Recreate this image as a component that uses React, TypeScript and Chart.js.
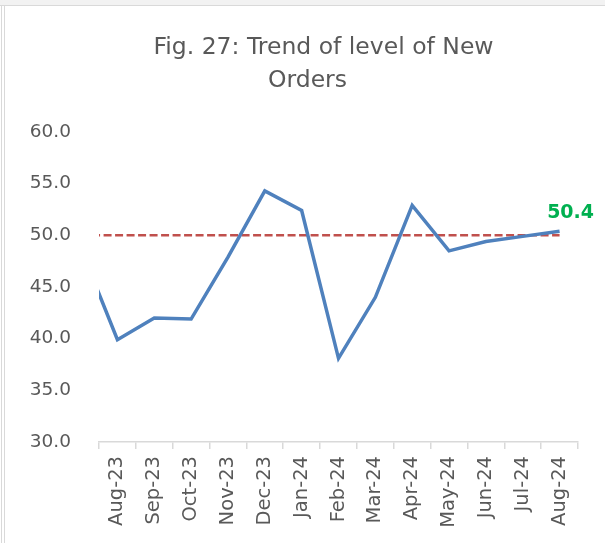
import React, { useEffect, useRef } from "react";
import { Chart, registerables } from "chart.js";

Chart.register(...registerables);

// Categories (first one lies just outside the visible axis range, as in the source chart)
const categories: string[] = [
  "Jul-23", "Aug-23", "Sep-23", "Oct-23", "Nov-23", "Dec-23", "Jan-24",
  "Feb-24", "Mar-24", "Apr-24", "May-24", "Jun-24", "Jul-24", "Aug-24",
];
const newOrders: number[] = [48.8, 39.9, 42.0, 41.9, 47.9, 54.3, 52.4, 38.1, 44.0, 52.9, 48.5, 49.4, 49.9, 50.4];
const threshold: number[] = [50, 50, 50, 50, 50, 50, 50, 50, 50, 50, 50, 50, 50, 50];
const yMin = 30;
const yMax = 60;
const yStep = 5;
const titleLines: string[] = ["Fig. 27: Trend of level of New", "Orders"];
const lastLabel = "50.4";

const FONT = "'DejaVu Sans', 'Open Sans', sans-serif";
const TEXT = "#595959";

const titlePlugin = {
  id: "customTitle",
  afterDraw(chart: any) {
    const ctx = chart.ctx;
    const mid = chart.width / 2;
    ctx.save();
    ctx.fillStyle = TEXT;
    ctx.font = `23.5px ${FONT}`;
    ctx.textAlign = "center";
    ctx.textBaseline = "middle";
    ctx.fillText(titleLines[0], mid + 21, 48);
    ctx.fillText(titleLines[1], mid + 5, 81);
    ctx.restore();
  },
};

const lastLabelPlugin = {
  id: "lastLabel",
  afterDatasetsDraw(chart: any) {
    const meta = chart.getDatasetMeta(0);
    const pt = meta.data[meta.data.length - 1];
    if (!pt) return;
    const ctx = chart.ctx;
    ctx.save();
    ctx.fillStyle = "#00b050";
    ctx.font = `bold 19px ${FONT}`;
    ctx.textAlign = "center";
    ctx.textBaseline = "middle";
    ctx.fillText(lastLabel, pt.x + 11, pt.y - 18);
    ctx.restore();
  },
};

export default function App() {
  const ref = useRef<HTMLCanvasElement | null>(null);

  useEffect(() => {
    if (!ref.current) return;
    const chart = new Chart(ref.current, {
      type: "line",
      data: {
        labels: categories,
        datasets: [
          {
            label: "New Orders",
            data: newOrders,
            borderColor: "#4f81bd",
            borderWidth: 3.5,
            pointRadius: 0,
            tension: 0,
            fill: false,
          },
          {
            label: "Threshold",
            data: threshold,
            borderColor: "#c0504d",
            borderWidth: 2.5,
            borderDash: [8, 3.5],
            pointRadius: 0,
            tension: 0,
            fill: false,
          },
        ],
      },
      options: {
        animation: false,
        responsive: false,
        maintainAspectRatio: false,
        layout: { padding: { top: 132, right: 27, bottom: 0, left: 0 } },
        plugins: {
          legend: { display: false },
          tooltip: { enabled: false },
          title: { display: false },
        },
        scales: {
          x: {
            type: "category",
            min: "Aug-23",
            offset: true,
            grid: {
              display: true,
              drawOnChartArea: false,
              drawTicks: true,
              tickLength: 7,
              color: "#d9d9d9",
              lineWidth: 1.5,
              offset: true,
            },
            border: { display: true, color: "#d9d9d9", width: 1.5 },
            ticks: {
              autoSkip: false,
              minRotation: 90,
              maxRotation: 90,
              padding: 7,
              color: TEXT,
              font: { family: FONT, size: 19.5 },
            },
            afterFit(scale: any) {
              scale.height = 101;
            },
          },
          y: {
            min: yMin,
            max: yMax,
            grid: { display: false, drawTicks: false },
            border: { display: false },
            ticks: {
              stepSize: yStep,
              padding: 28,
              color: TEXT,
              font: { family: FONT, size: 18.5 },
              callback: (v: any) => Number(v).toFixed(1),
            },
            afterFit(scale: any) {
              scale.width = 99;
            },
          },
        },
      },
      plugins: [titlePlugin, lastLabelPlugin],
    } as any);
    return () => chart.destroy();
  }, []);

  return (
    <div style={{ position: "fixed", left: 0, top: 0, width: 605, height: 543, background: "#ffffff", overflow: "hidden" }}>
      <div style={{ position: "absolute", left: 0, top: 0, width: 605, height: 5, background: "#f2f2f2", borderBottom: "1px solid #d9d9d9" }} />
      <div style={{ position: "absolute", left: 1, top: 6, width: 1, height: 537, background: "#d9d9d9" }} />
      <div style={{ position: "absolute", left: 4, top: 6, width: 1, height: 537, background: "#d9d9d9" }} />
      <canvas ref={ref} width={605} height={543} style={{ position: "absolute", left: 0, top: 0, width: 605, height: 543 }} />
    </div>
  );
}
